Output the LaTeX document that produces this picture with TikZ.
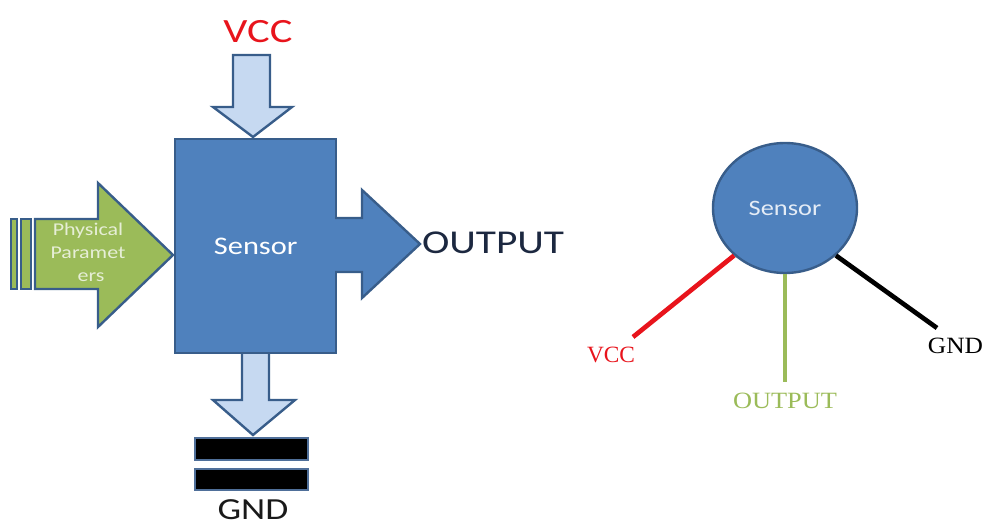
\documentclass[tikz,border=0pt]{standalone}
\usepackage{graphicx}
\usepackage{fontspec}
\setmainfont{Carlito}
\newfontfamily\labelserif{Liberation Serif}
\usetikzlibrary{shapes.geometric}

\definecolor{boxblue}{HTML}{4F81BD}
\definecolor{edgeblue}{HTML}{385D8A}
\definecolor{paleblue}{HTML}{C6D9F1}
\definecolor{olivegreen}{HTML}{9BBB59}
\definecolor{navytext}{HTML}{1C2840}
\definecolor{sigred}{HTML}{E8141C}
\definecolor{paletext}{HTML}{E6EED6}
\definecolor{lightlabel}{HTML}{E4ECF6}
\definecolor{baredge}{HTML}{4F6F99}

\newcommand{\fsz}[1]{\fontsize{#1}{#1}\selectfont}
\newcommand{\wide}[2]{\scalebox{#1}[1]{#2}}

\tikzset{
  block/.style={fill=boxblue, draw=edgeblue, line width=1.8pt},
  feed/.style={fill=paleblue, draw=edgeblue, line width=1.8pt, line join=miter},
  physarrow/.style={fill=olivegreen, draw=edgeblue, line width=1.8pt, line join=miter},
  gndbar/.style={fill=black, draw=baredge, line width=1.4pt},
  txt/.style={inner sep=0pt, outer sep=0pt},
  lead/.style={line width=3.5pt},
}

\begin{document}
\begin{tikzpicture}[x=0.75pt, y=-0.75pt]
  \useasboundingbox (0,0) rectangle (984,527);

  % ---------- block view ----------
  % supply arrow into the top of the block
  \draw[feed] (233,55) -- (270,55) -- (270,107) -- (292,107) -- (253,137)
              -- (213,107) -- (233,107) -- cycle;
  % ground arrow below the block
  \draw[feed] (242,352) -- (269,352) -- (269,400) -- (295,400) -- (253,435)
              -- (213,400) -- (242,400) -- cycle;

  % sensor block
  \node[block, rectangle, anchor=north west, inner sep=0pt,
        minimum width=120.75pt, minimum height=160.5pt] (sensor) at (174,138) {};
  \node[txt, text=white] (sensorlbl) at (sensor.center) {\wide{1.2}{\fsz{19pt}Sensor}};

  % output arrow merged with the block
  \fill[boxblue] (332,218) -- (362,218) -- (362,190) -- (420,244) -- (362,298)
                 -- (362,272) -- (332,272) -- cycle;
  \draw[edgeblue, line width=1.8pt, line join=miter]
        (335,218) -- (362,218) -- (362,190) -- (420,244) -- (362,298)
        -- (362,272) -- (335,272);
  \node[txt, anchor=west, text=navytext] (outlbl) at (422,242.5) {\wide{1.24}{\fsz{25pt}OUTPUT}};

  % striped input arrow
  \draw[physarrow] (11,219) rectangle (17,289);
  \draw[physarrow] (21,219) rectangle (31,289);
  \draw[physarrow] (35,219) -- (98,219) -- (98,183) -- (173,255) -- (98,327)
                   -- (98,289) -- (35,289) -- cycle;
  \node[txt, anchor=base, text=paletext] (phys1) at (88,236) {\wide{1.22}{\fsz{13.5pt}Physical}};
  \node[txt, anchor=base, text=paletext] (phys2) at (88,258) {\wide{1.22}{\fsz{13.5pt}Paramet}};
  \node[txt, anchor=base, text=paletext] (phys3) at (91,281) {\wide{1.22}{\fsz{13.5pt}ers}};

  % supply and ground labels
  \node[txt, text=sigred] (vcctop) at (258,32) {\wide{1.25}{\fsz{25.5pt}VCC}};
  \draw[gndbar] (195,438) rectangle (308,460);
  \draw[gndbar] (195,469) rectangle (308,490);
  \node[txt, text=black!90] (gndlbl) at (253,510) {\wide{1.22}{\fsz{23pt}GND}};

  % ---------- pin view ----------
  \node[block, ellipse, inner sep=0pt, minimum width=108pt, minimum height=97.5pt,
        text=lightlabel] (pin) at (785,208) {\wide{1.2}{\fsz{16.5pt}Sensor}};

  \coordinate (vccend) at (633,337);
  \coordinate (outend) at (785,382);
  \coordinate (gndend) at (937,328);
  \draw[lead, sigred] (pin.223) -- (vccend);
  \draw[lead, olivegreen] (pin.south) -- (outend);
  \draw[lead, black] (pin.317) -- (gndend);

  \node[txt, text=sigred] (vccpin) at (611,354.5) {\labelserif\wide{1.0}{\fsz{17.5pt}VCC}};
  \node[txt, text=olivegreen] (outpin) at (785,400.5) {\labelserif\wide{1.13}{\fsz{17.5pt}OUTPUT}};
  \node[txt, text=black] (gndpin) at (955.5,345.5) {\labelserif\wide{1.09}{\fsz{17.5pt}GND}};
\end{tikzpicture}
\end{document}
